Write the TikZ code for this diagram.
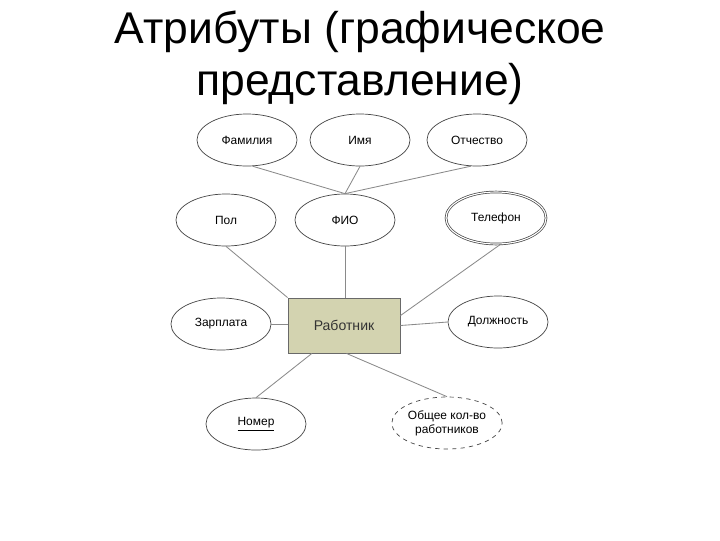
\documentclass[tikz,border=0pt]{standalone}
\usepackage{fontspec}
\setmainfont{Liberation Sans}
\usepackage{xcolor}
\usetikzlibrary{shapes.geometric,calc}
\definecolor{entfill}{HTML}{D3D3B0}
\definecolor{linegray}{HTML}{8A8A8A}
\definecolor{edgegray}{HTML}{444444}

\begin{document}
\begin{tikzpicture}[
  x=0.025cm, y=-0.025cm,
  attr/.style={ellipse, draw=edgegray, line width=0.5pt, fill=white, inner sep=0pt,
               minimum width=2.5cm, minimum height=1.3cm, align=center,
               font=\fontsize{8.5}{10}\selectfont},
  ent/.style={rectangle, draw=edgegray!80, line width=0.6pt, fill=entfill, inner sep=0pt,
              minimum width=2.8cm, minimum height=1.375cm,
              font=\fontsize{10}{12}\selectfont, text=black!80},
  ttl/.style={anchor=base, font=\fontsize{31.6}{36}\selectfont},
  con/.style={linegray, line width=0.6pt}]
\useasboundingbox (0,0) rectangle (720,540);
\node[ttl] (title1) at (360,43) {Атрибуты (графическое};
\node[ttl] (title2) at (360,95) {представление)};
\node[attr] (fam)  at (247,140) {Фамилия};
\node[attr] (imya) at (360,140) {Имя};
\node[attr] (otch) at (477,140) {Отчество};
\node[attr] (pol)  at (226,220) {Пол};
\node[attr] (fio)  at (345,220) {ФИО};
\node[attr, double, double distance=0.8pt] (tel) at (496,218) {Телефон};
\node[ent] (emp) at (344,325.5) {Работник};
\node[attr] (zar)  at (221,324) {Зарплата};
\node[attr] (dol)  at (498,322) {Должность};
\node[attr] (nom)  at (256,424) {\underline{Номер}};
\node[attr, dashed] (obsh) at (447,423) {Общее кол-во\\работников};
\draw[con] (fam.-78) -- (fio.north);
\draw[con] (imya.south) -- (fio.north);
\draw[con] (otch.-103) -- (fio.north);
\draw[con] (pol.south) -- (emp.north west);
\draw[con] (fio.south) -- (fio.south |- emp.north);
\draw[con] (tel.-80) -- (emp.10);
\draw[con] (zar.east) -- (zar.east -| emp.west);
\draw[con] (dol.west) -- (emp.east);
\draw[con] (nom.north) -- (emp.-139);
\draw[con] (obsh.north) -- (emp.-85);
\end{tikzpicture}
\end{document}
